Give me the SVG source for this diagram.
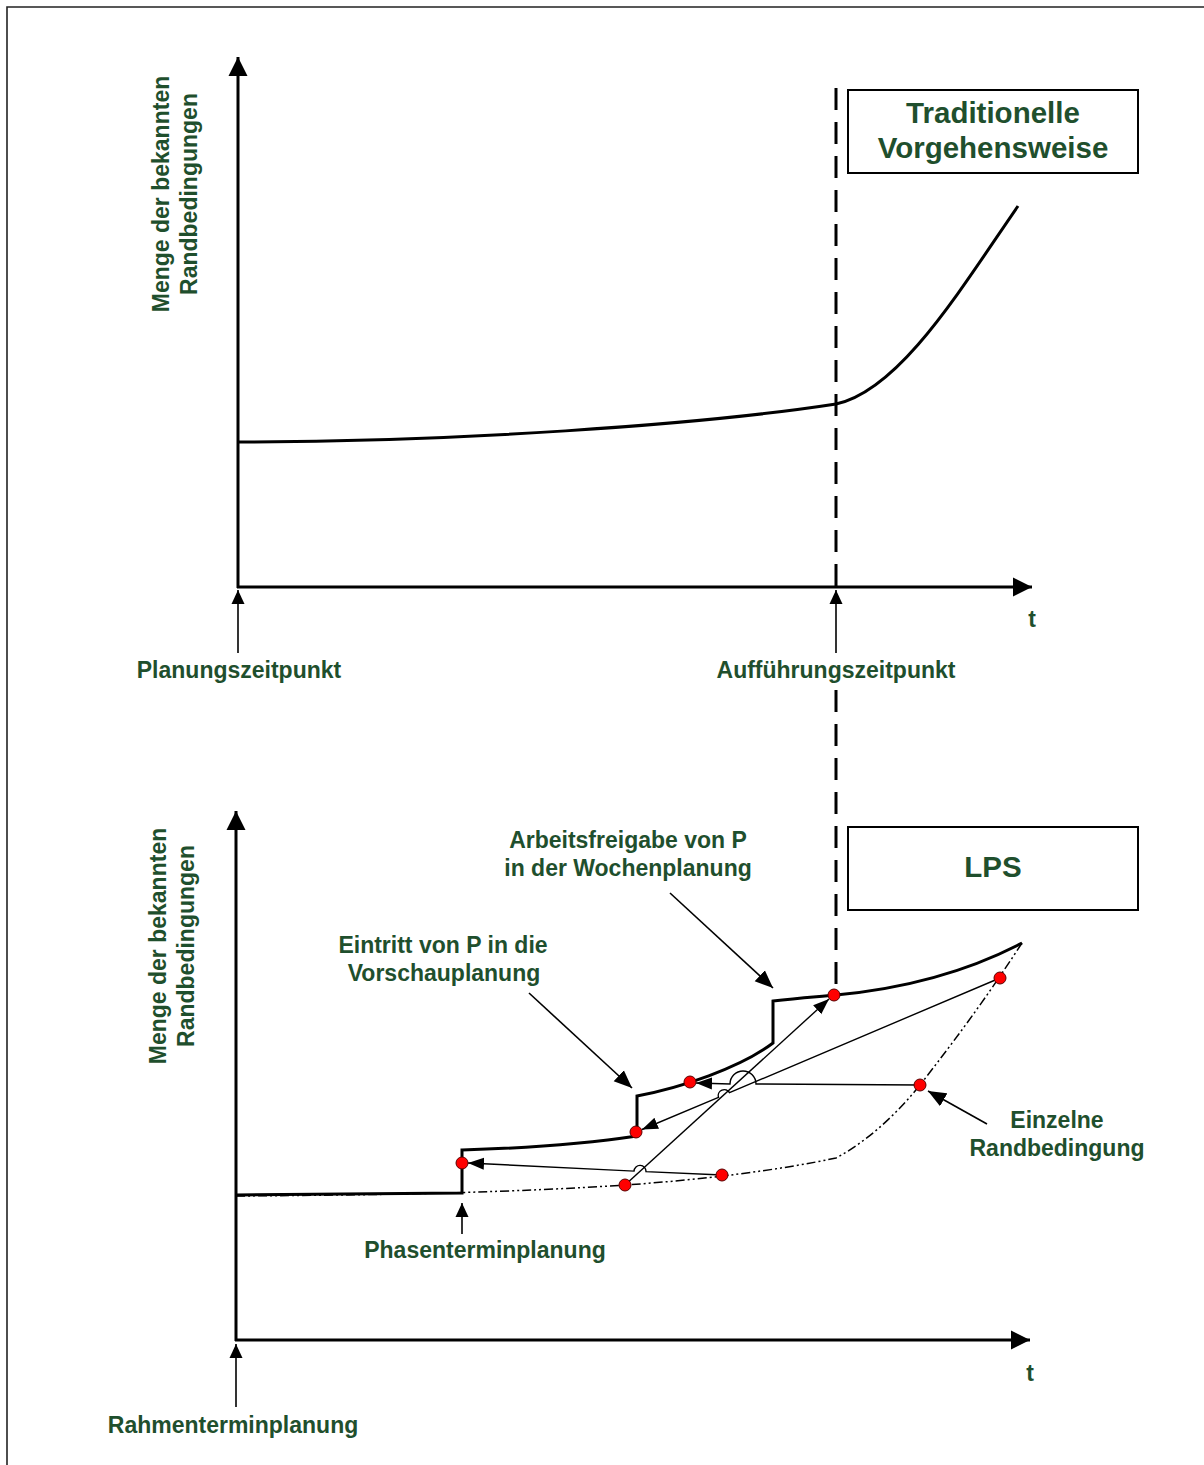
<svg xmlns="http://www.w3.org/2000/svg" width="1204" height="1465" viewBox="0 0 1204 1465">
  <style>
    .lbl { font-family: "Liberation Sans", Arial, sans-serif; font-weight: bold; font-size: 23px; fill: #1f4f2d; text-anchor: middle; }
    .ttl { font-family: "Liberation Sans", Arial, sans-serif; font-weight: bold; font-size: 29.5px; fill: #1f4f2d; text-anchor: middle; }
    .axis { stroke: #000; stroke-width: 3; fill: none; }
    .curve { stroke: #000; stroke-width: 3; fill: none; stroke-linejoin: miter; }
    .thin { stroke: #000; stroke-width: 1.4; fill: none; }
    .pointer { stroke: #000; stroke-width: 1.6; fill: none; }
    .box { fill: #fff; stroke: #000; stroke-width: 2; }
    .dot { fill: #ff0000; stroke: #5a0000; stroke-width: 1; }
    .limit { stroke: #000; stroke-width: 1.5; fill: none; stroke-dasharray: 9 3 2 3 2 3; }
    .exec { stroke: #000; stroke-width: 3; stroke-dasharray: 22 12; }
  </style>
  <defs>
    <marker id="axisHead" markerUnits="userSpaceOnUse" markerWidth="20" markerHeight="20" viewBox="0 0 20 20" refX="19" refY="10" orient="auto">
      <path d="M0,0.5 L19,10 L0,19.5 z" fill="#000"/>
    </marker>
    <marker id="smallHead" markerUnits="userSpaceOnUse" markerWidth="14" markerHeight="14" viewBox="0 0 14 14" refX="14" refY="7" orient="auto">
      <path d="M0,0.5 L14,7 L0,13.5 z" fill="#000"/>
    </marker>
    <marker id="lineHead" markerUnits="userSpaceOnUse" markerWidth="16" markerHeight="14" viewBox="0 0 16 14" refX="16" refY="7" orient="auto">
      <path d="M0,1 L16,7 L0,13 z" fill="#000"/>
    </marker>
    <marker id="noteHead" markerUnits="userSpaceOnUse" markerWidth="18" markerHeight="16" viewBox="0 0 18 16" refX="18" refY="8" orient="auto">
      <path d="M0,0.5 L18,8 L0,15.5 z" fill="#000"/>
    </marker>
  </defs>

  <!-- frame -->
  <path d="M7,1465 L7,7 L1204,7" stroke="#222" stroke-width="1.6" fill="none"/>

  <!-- upper chart: traditional approach -->
  <g id="upper-axes">
    <line class="axis" x1="238" y1="588" x2="238" y2="57" marker-end="url(#axisHead)"/>
    <line class="axis" x1="237" y1="587" x2="1032" y2="587" marker-end="url(#axisHead)"/>
    <text class="lbl" x="1032" y="627">t</text>
    <g transform="translate(169,194) rotate(-90)">
      <text class="lbl" x="0" y="0">Menge der bekannten</text>
      <text class="lbl" x="0" y="28">Randbedingungen</text>
    </g>
  </g>
  <g id="upper-curve">
    <path class="curve" d="M238,442 C450,442 700,425 836,404 C900,390 960,290 1018,206"/>
  </g>
  <g id="planning-point">
    <line class="pointer" x1="238" y1="653" x2="238" y2="590" marker-end="url(#smallHead)"/>
    <text class="lbl" x="239" y="678">Planungszeitpunkt</text>
  </g>
  <g id="execution-point">
    <line class="pointer" x1="836" y1="653" x2="836" y2="590" marker-end="url(#smallHead)"/>
    <text class="lbl" x="836" y="678">Aufführungszeitpunkt</text>
  </g>
  <g id="box-traditional">
    <rect class="box" x="848" y="90" width="290" height="83"/>
    <text class="ttl" x="993" y="123">Traditionelle</text>
    <text class="ttl" x="993" y="158">Vorgehensweise</text>
  </g>

  <!-- execution date, running through both charts (interrupted by its label) -->
  <g id="execution-line">
    <line class="exec" x1="836" y1="88" x2="836" y2="592"/>
    <line class="exec" x1="836" y1="690" x2="836" y2="989"/>
  </g>

  <!-- lower chart: LPS -->
  <g id="lower-axes">
    <line class="axis" x1="236" y1="1341" x2="236" y2="811" marker-end="url(#axisHead)"/>
    <line class="axis" x1="235" y1="1340" x2="1030" y2="1340" marker-end="url(#axisHead)"/>
    <text class="lbl" x="1030" y="1381">t</text>
    <g transform="translate(166,946) rotate(-90)">
      <text class="lbl" x="0" y="0">Menge der bekannten</text>
      <text class="lbl" x="0" y="28">Randbedingungen</text>
    </g>
  </g>
  <g id="box-lps">
    <rect class="box" x="848" y="827" width="290" height="83"/>
    <text class="ttl" x="993" y="877">LPS</text>
  </g>

  <g id="lower-curves">
    <path class="limit" d="M236,1196 C400,1195 520,1192 625,1185 C700,1180 780,1170 836,1158 C870,1140 900,1110 920,1085 C955,1040 985,1000 1022,943"/>
    <path class="curve" d="M236,1195 L462,1193 L462,1150 C530,1148 590,1143 637,1136 L637,1096 C680,1088 740,1068 773,1043 L773,1001 C800,998 815,997 836,995 C920,987 980,965 1022,943"/>
  </g>

  <g id="connectors">
    <path class="thin" d="M625,1185 L829,999" marker-end="url(#lineHead)"/>
    <path class="thin" d="M1000,978 L729.5,1092.7 A6,6 0 0 0 718.5,1097.3 L642,1129.5" marker-end="url(#lineHead)"/>
    <path class="thin" d="M920,1085 L756,1084 A13,13 0 0 0 730,1084 L696,1083" marker-end="url(#lineHead)"/>
    <path class="thin" d="M722,1175 L646,1171.7 A6,6 0 0 0 634,1171.1 L468,1163" marker-end="url(#lineHead)"/>
  </g>

  <g id="constraints">
    <circle class="dot" cx="462" cy="1163" r="6"/>
    <circle class="dot" cx="636" cy="1132" r="6"/>
    <circle class="dot" cx="690" cy="1082" r="6"/>
    <circle class="dot" cx="834" cy="995" r="6"/>
    <circle class="dot" cx="1000" cy="978" r="6"/>
    <circle class="dot" cx="920" cy="1085" r="6"/>
    <circle class="dot" cx="722" cy="1175" r="6"/>
    <circle class="dot" cx="625" cy="1185" r="6"/>
  </g>

  <g id="note-release">
    <line class="pointer" x1="670" y1="893" x2="773" y2="988" marker-end="url(#noteHead)"/>
    <text class="lbl" x="628" y="848">Arbeitsfreigabe von P</text>
    <text class="lbl" x="628" y="876">in der Wochenplanung</text>
  </g>
  <g id="note-lookahead">
    <line class="pointer" x1="529" y1="993" x2="632" y2="1088" marker-end="url(#noteHead)"/>
    <text class="lbl" x="443" y="953">Eintritt von P in die</text>
    <text class="lbl" x="444" y="981">Vorschauplanung</text>
  </g>
  <g id="note-constraint">
    <line class="pointer" x1="987" y1="1124" x2="928" y2="1091" marker-end="url(#noteHead)"/>
    <text class="lbl" x="1057" y="1128">Einzelne</text>
    <text class="lbl" x="1057" y="1156">Randbedingung</text>
  </g>
  <g id="phase-schedule">
    <line class="pointer" x1="462" y1="1234" x2="462" y2="1203" marker-end="url(#smallHead)"/>
    <text class="lbl" x="485" y="1258">Phasenterminplanung</text>
  </g>
  <g id="master-schedule">
    <line class="pointer" x1="236" y1="1407" x2="236" y2="1344" marker-end="url(#smallHead)"/>
    <text class="lbl" x="233" y="1433">Rahmenterminplanung</text>
  </g>
</svg>
